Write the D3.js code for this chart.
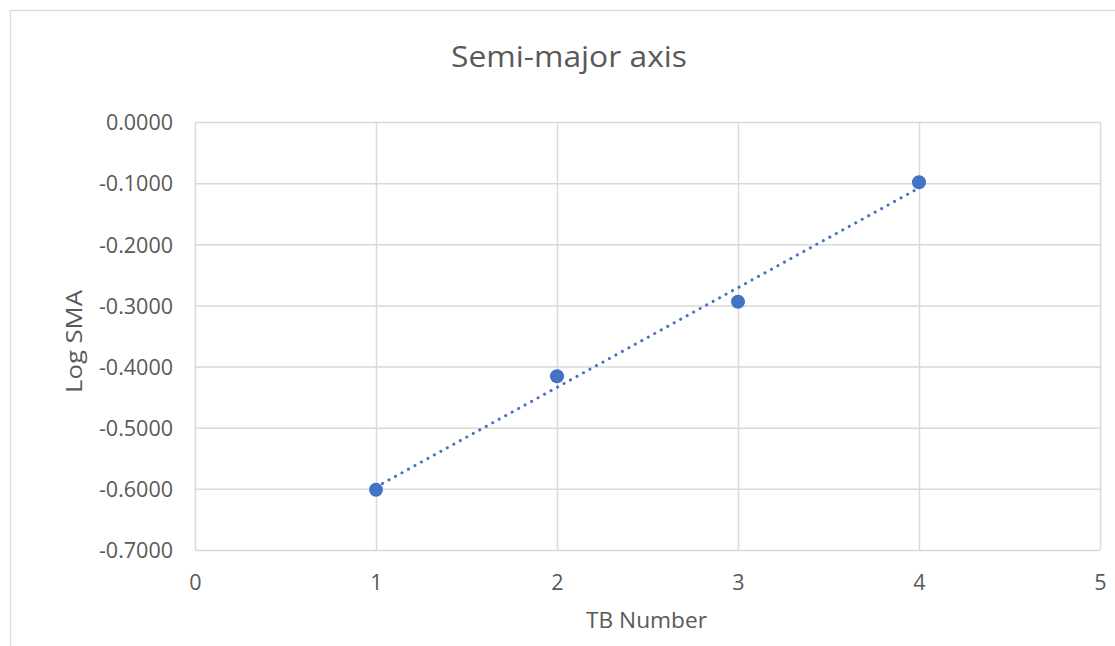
<!DOCTYPE html>
<html>
<head>
<meta charset="utf-8">
<script src="https://cdn.jsdelivr.net/npm/d3@7"></script>
<style>
  html, body { margin: 0; padding: 0; background: #fff; }
  svg { display: block; }
  text { font-family: "Open Sans", "Lato", sans-serif; fill: #595959; }
</style>
</head>
<body>
<svg id="chart" width="1115" height="646"></svg>
<script>
// ---- Data ----
const tbNumber = [1, 2, 3, 4];
const logSMA = [-0.6014, -0.4159, -0.2939, -0.0986];
const xTicks = [0, 1, 2, 3, 4, 5];
const yTicks = [0, -0.1, -0.2, -0.3, -0.4, -0.5, -0.6, -0.7];
const titleText = "Semi-major axis";
const xTitle = "TB Number";
const yTitle = "Log SMA";

const svg = d3.select("#chart");
const W = 1115, H = 646;
const plot = { left: 195, right: 1100, top: 122, bottom: 550 };
const colorBlue = "#4472C4";
const gridColor = "#d9d9d9";
const font = "'Open Sans', Lato, sans-serif";

// outer chart border
svg.append("rect")
  .attr("x", 10.5).attr("y", 10.5)
  .attr("width", W + 20).attr("height", H + 20)
  .attr("fill", "none").attr("stroke", gridColor).attr("stroke-width", 1.3);

const x = d3.scaleLinear().domain([0, 5]).range([plot.left, plot.right]);
const y = d3.scaleLinear().domain([-0.7, 0]).range([plot.bottom, plot.top]);

// gridlines + ticks
const gx = svg.append("g")
  .attr("transform", `translate(0,${plot.bottom})`)
  .call(d3.axisBottom(x).tickValues(xTicks).tickSize(-(plot.bottom - plot.top)).tickFormat(d3.format("d")));
const gy = svg.append("g")
  .attr("transform", `translate(${plot.left},0)`)
  .call(d3.axisLeft(y).tickValues(yTicks).tickSize(-(plot.right - plot.left))
        .tickFormat(d => d3.format(".4f")(d).replace("\u2212", "-")).tickPadding(22));

[gx, gy].forEach(g => {
  g.select(".domain").remove();
  g.selectAll(".tick line").attr("stroke", gridColor).attr("stroke-width", 1.5);
  g.selectAll(".tick text").attr("fill", "#595959")
    .style("font-size", "21.5px").style("font-family", font);
});
gx.selectAll(".tick text").attr("y", 40).attr("dy", 0);
gy.selectAll(".tick text").attr("dy", "0.36em");

// trendline (least squares)
const mx = d3.mean(tbNumber), my = d3.mean(logSMA);
const slope = d3.sum(tbNumber.map((v, i) => (v - mx) * (logSMA[i] - my))) /
              d3.sum(tbNumber.map(v => (v - mx) ** 2));
const intercept = my - slope * mx;
const xMin = d3.min(tbNumber), xMax = d3.max(tbNumber);
svg.append("line")
  .attr("x1", x(xMin)).attr("y1", y(slope * xMin + intercept))
  .attr("x2", x(xMax)).attr("y2", y(slope * xMax + intercept))
  .attr("stroke", colorBlue).attr("stroke-width", 3)
  .attr("stroke-linecap", "round")
  .attr("stroke-dasharray", "0.1 7.3");

// points
svg.append("g").selectAll("circle")
  .data(tbNumber.map((v, i) => [v, logSMA[i]]))
  .join("circle")
  .attr("cx", d => x(d[0])).attr("cy", d => y(d[1]))
  .attr("r", 7).attr("fill", colorBlue);

// titles
svg.append("text")
  .attr("x", 569).attr("y", 67)
  .attr("text-anchor", "middle")
  .style("font-size", "30px")
  .attr("textLength", 236).attr("lengthAdjust", "spacingAndGlyphs")
  .text(titleText);

svg.append("text")
  .attr("x", 646.5).attr("y", 628)
  .attr("text-anchor", "middle")
  .style("font-size", "22px")
  .attr("textLength", 121).attr("lengthAdjust", "spacingAndGlyphs")
  .text(xTitle);

svg.append("text")
  .attr("transform", "translate(82,341.5) rotate(-90)")
  .attr("text-anchor", "middle")
  .style("font-size", "22px")
  .attr("textLength", 103).attr("lengthAdjust", "spacingAndGlyphs")
  .text(yTitle);
</script>
</body>
</html>
